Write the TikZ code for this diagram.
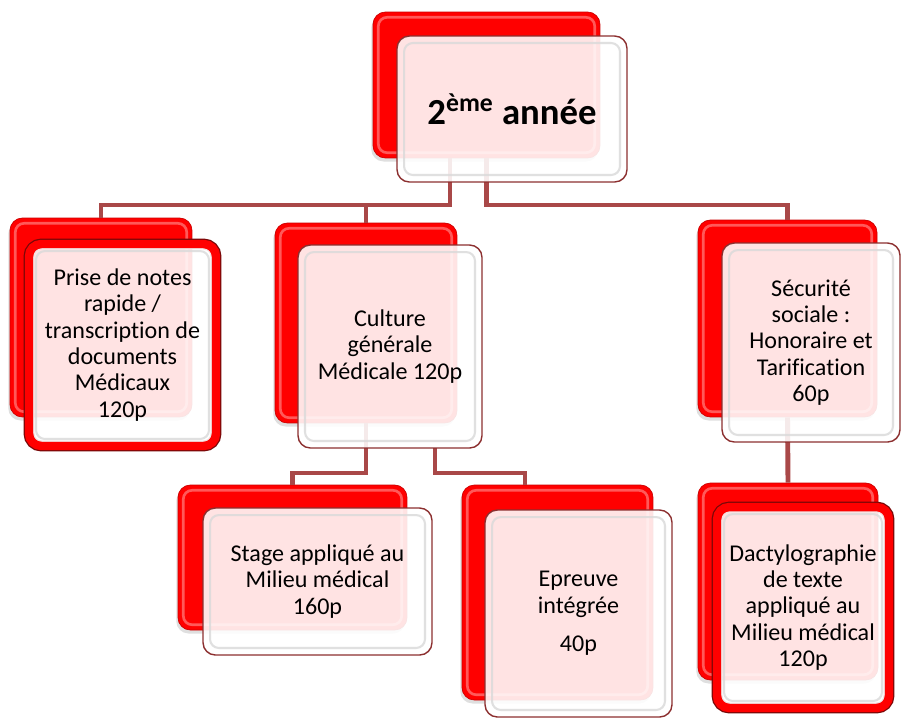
\documentclass[tikz,border=0pt]{standalone}
\usepackage{fontspec}
\setmainfont{Carlito}[Ligatures=NoCommon]
\usepackage{tikz}
\usetikzlibrary{shadows}

\definecolor{linkred}{HTML}{A94848}
\definecolor{edgered}{HTML}{8C2F2F}
\definecolor{rimdark}{HTML}{780808}

\begin{document}
\begin{tikzpicture}[x=0.02cm, y=-0.02cm,
  backbox/.style={fill=red, draw=red!80!black, line width=0.4pt, rounded corners=7pt,
    inner sep=0pt, drop shadow={shadow xshift=-1pt, shadow yshift=-2pt, opacity=0.25},
    path picture={\draw[white, draw opacity=0.35, line width=1.5pt, rounded corners=5pt]
      ([shift={(3pt,-3pt)}]path picture bounding box.north west) rectangle
      ([shift={(-3pt,3pt)}]path picture bounding box.south east);}},
  frontbox/.style={draw=edgered, line width=0.8pt, fill=white, fill opacity=0.89,
    text opacity=1, rounded corners=7pt, inner sep=0pt, align=center,
    font=\fontsize{13.7}{15}\selectfont,
    path picture={\draw[gray!30, draw opacity=0.8, line width=1.2pt, rounded corners=5pt]
      ([shift={(4pt,-4pt)}]path picture bounding box.north west) rectangle
      ([shift={(-4pt,4pt)}]path picture bounding box.south east);}},
  rimbox/.style={frontbox, draw=red, line width=4.8pt,
    preaction={draw=rimdark, line width=6.2pt}},
  conn/.style={draw=linkred, line width=2.8pt}]
\useasboundingbox (0,0) rectangle (901,718);

% Back boxes
\node[backbox, minimum width=4.54cm, minimum height=2.92cm] (annee-b) at (486.5,85) {};
\node[backbox, minimum width=3.64cm, minimum height=3.98cm] (prise-b) at (101,317.5) {};
\node[backbox, minimum width=3.64cm, minimum height=4.00cm] (culture-b) at (366,323) {};
\node[backbox, minimum width=3.58cm, minimum height=3.94cm] (secu-b) at (787.5,318.5) {};
\node[backbox, minimum width=4.58cm, minimum height=2.90cm] (stage-b) at (292.5,557.5) {};
\node[backbox, minimum width=3.82cm, minimum height=4.30cm] (epreuve-b) at (557.5,592.5) {};
\node[backbox, minimum width=3.60cm, minimum height=3.94cm] (dactylo-b) at (788,581.5) {};

% Connectors
\coordinate (bus) at (0,205);
\coordinate (bus2) at (0,473);
\coordinate (annee-l) at (450,158);
\coordinate (culture-r) at (435,448);
\coordinate (epreuve-t) at (525,485);
\draw[conn] (annee-l) -- (annee-l |- bus) -| (prise-b.north);
\draw[conn] (culture-b.north) -- (culture-b.north |- bus);
\draw[conn] (annee-b.south) -- (annee-b.south |- bus) -| (secu-b.north);
\draw[conn] (culture-b.south) -- (culture-b.south |- bus2) -| (stage-b.north);
\draw[conn] (culture-r) -- (culture-r |- bus2) -| (epreuve-t);
\draw[conn] (secu-b.south) -- (dactylo-b.north);

% Front boxes
\node[frontbox, minimum width=4.60cm, minimum height=2.92cm,
  font=\fontsize{20.9}{25}\selectfont\bfseries] (annee) at (512,109) {2\textsuperscript{ème} année};
\node[rimbox, minimum width=3.74cm, minimum height=4.04cm] (prise) at (122.5,345)
  {Prise de notes\\rapide /\\transcription de\\documents\\Médicaux\\120p};
\node[frontbox, minimum width=3.68cm, minimum height=4.06cm] (culture) at (390,346.5)
  {Culture\\générale\\Médicale 120p};
\node[frontbox, minimum width=3.56cm, minimum height=3.98cm] (secu) at (811,342.5)
  {Sécurité\\sociale :\\Honoraire et\\Tarification\\60p};
\node[frontbox, minimum width=4.58cm, minimum height=2.94cm] (stage) at (317.5,581.5)
  {Stage appliqué au\\Milieu médical\\160p};
\node[frontbox, minimum width=3.74cm, minimum height=4.14cm] (epreuve) at (578.5,613.5)
  {Epreuve\\intégrée\\[7pt]40p};
\node[rimbox, minimum width=3.44cm, minimum height=4.02cm] (dactylo) at (803,607.5)
  {Dactylographie\\de texte\\appliqué au\\Milieu médical\\120p};

\end{tikzpicture}
\end{document}
